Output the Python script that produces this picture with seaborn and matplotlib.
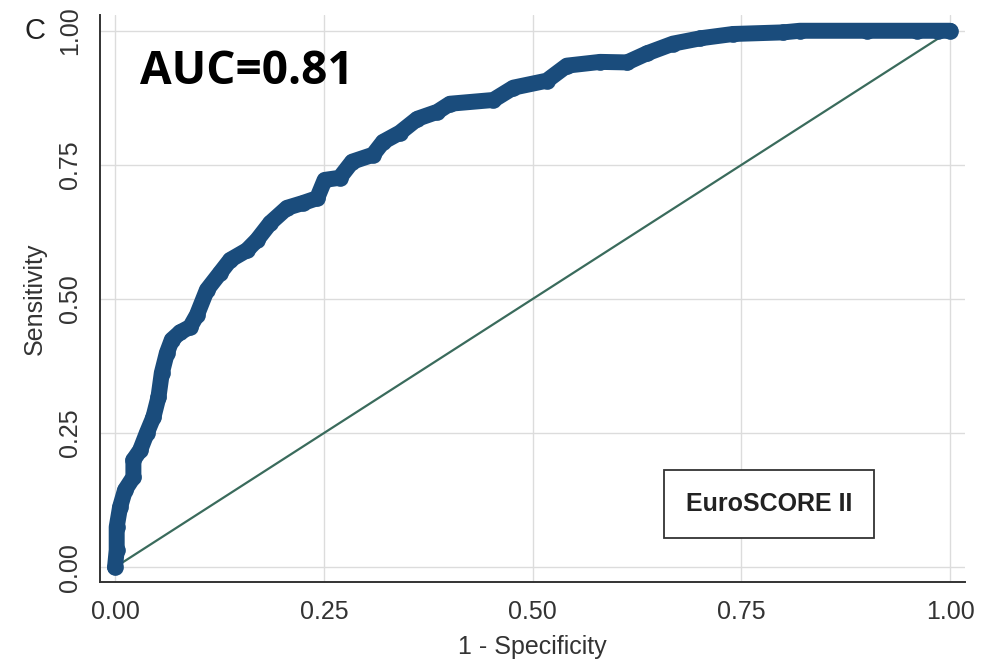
import numpy as np
import pandas as pd
import matplotlib
matplotlib.use("Agg")
import matplotlib.pyplot as plt
from matplotlib.patches import Rectangle
import seaborn as sns

# ROC points (1 - specificity, sensitivity)
fpr = [0.000, 0.002, 0.002, 0.006, 0.012, 0.022, 0.022, 0.030, 0.038, 0.046,
       0.052, 0.056, 0.062, 0.068, 0.078, 0.090, 0.098, 0.110, 0.126, 0.138,
       0.158, 0.170, 0.186, 0.206, 0.225, 0.242, 0.251, 0.269, 0.284, 0.309,
       0.321, 0.341, 0.362, 0.386, 0.401, 0.453, 0.477, 0.517, 0.541, 0.581,
       0.613, 0.637, 0.668, 0.701, 0.740, 0.800, 0.820, 0.900, 0.960, 0.985,
       1.000]
tpr = [0.000, 0.032, 0.075, 0.112, 0.144, 0.168, 0.200, 0.218, 0.250, 0.280,
       0.317, 0.362, 0.399, 0.424, 0.438, 0.448, 0.470, 0.517, 0.549, 0.573,
       0.591, 0.610, 0.642, 0.670, 0.679, 0.688, 0.722, 0.726, 0.756, 0.769,
       0.793, 0.810, 0.836, 0.849, 0.864, 0.871, 0.894, 0.907, 0.935, 0.942,
       0.941, 0.958, 0.976, 0.986, 0.994, 0.997, 1.000, 1.000, 1.000, 1.000,
       1.000]
ref_line = [0.0, 1.0]
tick_vals = [0.0, 0.25, 0.5, 0.75, 1.0]
tick_labels = ["0.00", "0.25", "0.50", "0.75", "1.00"]

CURVE_COLOR = "#1a4c7c"
DIAG_COLOR = "#3a6b5c"

sns.set_style("whitegrid", {"grid.color": "#dcdcdc"})
plt.rcParams["font.family"] = ["Liberation Sans", "DejaVu Sans"]

fig = plt.figure(figsize=(9.9, 6.67), dpi=100)
ax = fig.add_axes([0.101, 0.127, 0.874, 0.851])

roc = pd.DataFrame({"fpr": fpr, "tpr": tpr})
sns.lineplot(x=ref_line, y=ref_line, ax=ax, color=DIAG_COLOR, lw=1.6, zorder=2)
sns.lineplot(data=roc, x="fpr", y="tpr", ax=ax, sort=False, estimator=None,
             color=CURVE_COLOR, lw=11.5, marker="o", markersize=12,
             markeredgewidth=0, solid_capstyle="round", solid_joinstyle="round",
             zorder=3)

ax.set_xlim(-0.018, 1.018)
ax.set_ylim(-0.028, 1.030)
ax.set_xticks(tick_vals)
ax.set_xticklabels(tick_labels, fontsize=18)
ax.set_yticks(tick_vals)
ax.set_yticklabels(tick_labels, fontsize=18, rotation=90, va="center")
ax.tick_params(axis="both", direction="out", length=7, width=1.3,
               color="#333333", labelcolor="#333333", pad=6)
ax.set_xlabel("1 - Specificity", fontsize=18, color="#333333", labelpad=8)
ax.set_ylabel("Sensitivity", fontsize=18, color="#333333", labelpad=8)
ax.grid(True, color="#dcdcdc", lw=1)

for side in ["top", "right"]:
    ax.spines[side].set_visible(False)
for side in ["left", "bottom"]:
    ax.spines[side].set_color("#333333")
    ax.spines[side].set_linewidth(1.4)

# legend-like box
ax.add_patch(Rectangle((0.652, 0.078), 0.243, 0.12, transform=ax.transAxes,
                       fill=True, facecolor="white", edgecolor="#333333",
                       lw=1.3, zorder=5))
ax.text(0.773, 0.138, "EuroSCORE II", transform=ax.transAxes, fontsize=18,
        fontweight="bold", ha="center", va="center", color="#222222", zorder=6)

fig.text(0.035, 0.953, "C", fontsize=21, ha="center", va="center", color="#222222")
fig.text(0.141, 0.893, "AUC=0.81", fontsize=33, fontweight="bold",
         family=["Open Sans", "DejaVu Sans"], ha="left", va="center", color="black")

fig.savefig("out.png", dpi=100)
